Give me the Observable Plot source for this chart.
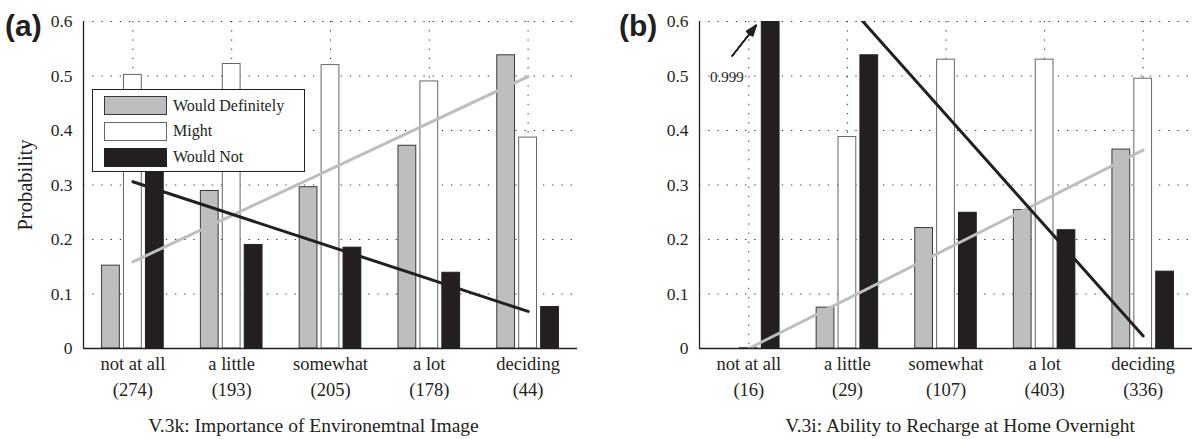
<!DOCTYPE html>
<html><head><meta charset="utf-8">
<script src="https://cdn.jsdelivr.net/npm/d3@7"></script>
<script src="https://cdn.jsdelivr.net/npm/@observablehq/plot@0.6"></script>
<style>
body{margin:0;background:#fff;}
#wrap{position:relative;width:1192px;height:439px;overflow:hidden;font-family:"Liberation Serif","Times New Roman",serif;}
.panel{position:absolute;top:0;}
.tag{position:absolute;font-family:"Liberation Sans",Arial,sans-serif;font-weight:bold;font-size:30px;line-height:30px;color:#231f20;}
.legend{position:absolute;left:92px;top:89px;width:211px;height:81px;border:1.3px solid #231f20;background:#fff;font-size:16px;color:#231f20;}
.legend .row{position:absolute;left:11px;height:19px;display:flex;align-items:center;}
.legend .sw{width:61px;height:17px;border:1px solid #444;margin-right:6px;}
</style></head>
<body><div id="wrap"></div>
<script>
// ---- data ----
const categories = ["not at all", "a little", "somewhat", "a lot", "deciding"];
const countsA = [274, 193, 205, 178, 44];
const countsB = [16, 29, 107, 403, 336];
const seriesNames = ["Would Definitely", "Might", "Would Not"];
const definitelyA = [0.152, 0.289, 0.296, 0.372, 0.538];
const mightA      = [0.502, 0.522, 0.520, 0.490, 0.387];
const wouldNotA   = [0.346, 0.190, 0.185, 0.139, 0.076];
const definitelyB = [0.000, 0.075, 0.221, 0.254, 0.365];
const mightB      = [0.001, 0.388, 0.530, 0.530, 0.495];
const wouldNotB   = [0.999, 0.538, 0.249, 0.217, 0.141];
// trend lines: value at first and last category
const trendDefinitelyA = [0.159, 0.499];
const trendWouldNotA   = [0.306, 0.068];
const trendDefinitelyB = [0.000, 0.364];
const trendWouldNotB   = [0.835, 0.023];
const yTicks = [0, 0.1, 0.2, 0.3, 0.4, 0.5, 0.6];
const titleA = "V.3k: Importance of Environemtnal Image";
const titleB = "V.3i: Ability to Recharge at Home Overnight";
const yLabel = "Probability";
// annotation in panel b (clipped bar value)
const noteText = ["0.999"];
const noteTextPos = [0.777, 0.498];
const noteArrow = [0.832, 0.537, 1.075, 0.593];
const noteHeadAngles = [6, 12, 18, 24, 30, 36, 42];

// ---- styles ----
const fills = ["#bcbec0", "#ffffff", "#231f20"];
const strokes = ["#3a3a3a", "#666666", "#231f20"];
const offsets = [-0.222, 0, 0.222];
const barW = 0.18;
const SERIF = "'Liberation Serif', 'Times New Roman', serif";

function makePanel(series, counts, trendDef, trendNot, title, opts) {
  const idx = categories.map((_, i) => i + 1);
  const bars = [];
  series.forEach((vals, s) => vals.forEach((v, i) => bars.push({
    s, x1: i + 1 + offsets[s] - barW / 2, x2: i + 1 + offsets[s] + barW / 2, y: v
  })));
  const grid = {stroke: "#333", strokeOpacity: 1, strokeWidth: 1, strokeDasharray: "1.3,7.9"};
  const marks = [
    Plot.gridY(yTicks.filter(d => d > 0), grid),
    Plot.gridX(idx, grid),
    Plot.rectY(bars, {x1: "x1", x2: "x2", y1: 0, y2: "y", fill: d => fills[d.s], stroke: d => strokes[d.s], strokeWidth: 1, clip: true}),
    Plot.line([{x: 1, y: trendDef[0]}, {x: 5, y: trendDef[1]}], {x: "x", y: "y", stroke: "#bcbec0", strokeWidth: 3, clip: true}),
    Plot.line([{x: 1, y: trendNot[0]}, {x: 5, y: trendNot[1]}], {x: "x", y: "y", stroke: "#231f20", strokeWidth: 3, clip: true}),
    Plot.ruleX([0.5], {stroke: "#231f20", strokeWidth: 1.3}),
    Plot.ruleY([0], {stroke: "#231f20", strokeWidth: 1.3}),
    Plot.axisY({ticks: yTicks, tickFormat: d => d === 0 ? "0" : d3.format(".1f")(d), tickSize: 0, tickPadding: 11, fontSize: 17.5, label: null}),
    Plot.axisX({ticks: idx, tickFormat: i => categories[i - 1] + "\n(" + counts[i - 1] + ")", tickSize: 0, tickPadding: 3, fontSize: 18.5, lineHeight: 1.4, label: null}),
    Plot.text([title], {text: d => d, frameAnchor: "bottom", textAnchor: "middle", lineAnchor: "middle", dx: opts.titleDx, dy: 77, fontSize: 19.5})
  ];
  if (opts.extra) marks.push(...opts.extra);
  return Plot.plot({
    width: opts.width, height: 439,
    marginLeft: opts.marginLeft, marginRight: opts.marginRight, marginTop: 21, marginBottom: 91,
    style: {fontFamily: SERIF, color: "#231f20", background: "transparent", overflow: "visible"},
    x: {domain: [0.5, 5.5], axis: null},
    y: {domain: [0, 0.6], axis: null},
    marks
  });
}

const wrap = document.getElementById("wrap");

const pa = makePanel([definitelyA, mightA, wouldNotA], countsA, trendDefinitelyA, trendWouldNotA, titleA, {
  width: 600, marginLeft: 83, marginRight: 23, titleDx: -17,
  extra: [Plot.text([yLabel], {text: d => d, frameAnchor: "left", textAnchor: "middle", lineAnchor: "middle", rotate: -90, dx: -58, fontSize: 20.5})]
});
pa.classList.add("panel"); pa.style.left = "0px";
wrap.appendChild(pa);

const pb = makePanel([definitelyB, mightB, wouldNotB], countsB, trendDefinitelyB, trendWouldNotB, titleB, {
  width: 592, marginLeft: 99, marginRight: 0, titleDx: 14,
  extra: [
    Plot.text(noteText, {x: () => noteTextPos[0], y: () => noteTextPos[1], text: d => d, fontSize: 15}),
    ...noteHeadAngles.map(a => Plot.arrow([noteArrow], {x1: d => d[0], y1: d => d[1], x2: d => d[2], y2: d => d[3], stroke: "#231f20", strokeWidth: 1.3, headLength: 13, headAngle: a}))
  ]
});
pb.classList.add("panel"); pb.style.left = "600px";
wrap.appendChild(pb);

// panel tags
[["(a)", 5], ["(b)", 619]].forEach(([t, x]) => {
  const d = document.createElement("div");
  d.className = "tag"; d.textContent = t; d.style.left = x + "px"; d.style.top = "11px";
  wrap.appendChild(d);
});

// legend for panel a
const lg = document.createElement("div");
lg.className = "legend";
seriesNames.forEach((name, s) => {
  const row = document.createElement("div");
  row.className = "row"; row.style.top = (6 + s * 25.8) + "px";
  const sw = document.createElement("div");
  sw.className = "sw"; sw.style.background = fills[s]; sw.style.borderColor = strokes[s];
  const tx = document.createElement("span"); tx.textContent = name;
  row.appendChild(sw); row.appendChild(tx);
  lg.appendChild(row);
});
wrap.appendChild(lg);
</script>
</body></html>
